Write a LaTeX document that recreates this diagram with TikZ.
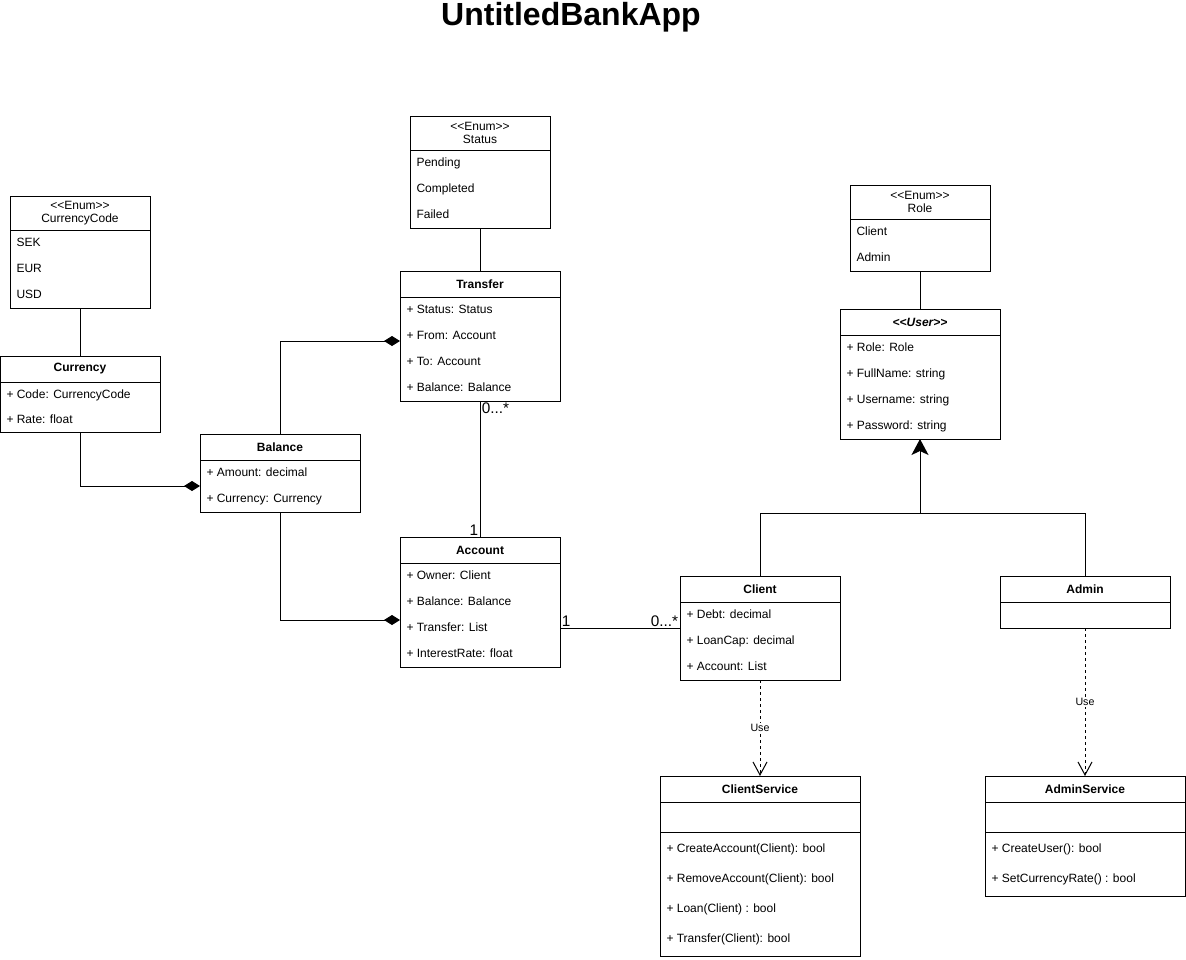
\documentclass[tikz,border=0pt]{standalone}
\usepackage{fontspec}
\setmainfont{Liberation Sans}
\usetikzlibrary{arrows.meta,calc}

% guillemet-free stereotype brackets
\newcommand{\stereo}[1]{<\kern0pt<#1>\kern0pt>}

\begin{document}
\begin{tikzpicture}[x=0.75pt,y=-0.75pt,
  line width=0.75pt,
  cls/.style n args={2}{draw, fill=white, minimum width=#1*0.75pt, minimum height=#2*0.75pt,
                        anchor=north west, inner sep=0pt, outer sep=0pt},
  hdr/.style={font=\fontsize{9}{11}\selectfont\bfseries, inner sep=0pt},
  enumhdr/.style={font=\fontsize{9}{9.6}\selectfont, align=center, inner sep=0pt},
  attr/.style={font=\fontsize{9}{11}\selectfont, anchor=base west, inner sep=0pt, yshift=-4.3*0.75pt},
  mult/.style={font=\fontsize{11.5}{13}\selectfont, inner sep=1pt},
  uselbl/.style={font=\fontsize{8}{9}\selectfont, fill=white, inner sep=1pt},
  comp/.style={-{Diamond[length=16*0.75pt,width=10*0.75pt]}},
  gen/.style={-{Stealth[length=16*0.75pt,width=17*0.75pt,inset=4*0.75pt]}},
  dep/.style={dash pattern=on 3*0.75pt off 3*0.75pt,
              -{Straight Barb[length=13*0.75pt,width=14*0.75pt,line width=0.75pt]}},
]
\useasboundingbox (0,0) rectangle (1186,960);

% title
\node[font=\fontsize{24}{28}\selectfont\bfseries] (title) at (571,17) {UntitledBankApp};

% ---------- enum CurrencyCode ----------
\node[cls={140}{112}] (cc) at (10,196) {};
\draw ($(cc.north west)+(0,34)$) -- ++(140,0);
\node[enumhdr] (ccT) at (80,213) {\stereo{Enum}\\CurrencyCode};
\node[attr] (cc1) at (16,242) {SEK};
\node[attr] (cc2) at (16,268) {EUR};
\node[attr] (cc3) at (16,294) {USD};

% ---------- enum Status ----------
\node[cls={140}{112}] (status) at (410,116) {};
\draw ($(status.north west)+(0,34)$) -- ++(140,0);
\node[enumhdr] (statusT) at (480,133) {\stereo{Enum}\\Status};
\node[attr] (st1) at (416,162) {Pending};
\node[attr] (st2) at (416,188) {Completed};
\node[attr] (st3) at (416,214) {Failed};

% ---------- enum Role ----------
\node[cls={140}{86}] (role) at (850,185) {};
\draw ($(role.north west)+(0,34)$) -- ++(140,0);
\node[enumhdr] (roleT) at (920,202) {\stereo{Enum}\\Role};
\node[attr] (ro1) at (856,231) {Client};
\node[attr] (ro2) at (856,257) {Admin};

% ---------- Currency ----------
\node[cls={160}{76}] (currency) at (0,356) {};
\draw ($(currency.north west)+(0,26)$) -- ++(160,0);
\node[hdr] (currencyT) at (80,369) {Currency};
\node[attr] (cu1) at (6,394) {+ Code: CurrencyCode};
\node[attr] (cu2) at (6,419) {+ Rate: float};

% ---------- Balance ----------
\node[cls={160}{78}] (balance) at (200,434) {};
\draw ($(balance.north west)+(0,26)$) -- ++(160,0);
\node[hdr] (balanceT) at (280,447) {Balance};
\node[attr] (ba1) at (206,472) {+ Amount: decimal};
\node[attr] (ba2) at (206,498) {+ Currency: Currency};

% ---------- Transfer ----------
\node[cls={160}{130}] (transfer) at (400,271) {};
\draw ($(transfer.north west)+(0,26)$) -- ++(160,0);
\node[hdr] (transferT) at (480,284) {Transfer};
\node[attr] (tr1) at (406,309) {+ Status: Status};
\node[attr] (tr2) at (406,335) {+ From: Account};
\node[attr] (tr3) at (406,361) {+ To: Account};
\node[attr] (tr4) at (406,387) {+ Balance: Balance};

% ---------- Account ----------
\node[cls={160}{130}] (account) at (400,537) {};
\draw ($(account.north west)+(0,26)$) -- ++(160,0);
\node[hdr] (accountT) at (480,550) {Account};
\node[attr] (ac1) at (406,575) {+ Owner: Client};
\node[attr] (ac2) at (406,601) {+ Balance: Balance};
\node[attr] (ac3) at (406,627) {+ Transfer: List};
\node[attr] (ac4) at (406,653) {+ InterestRate: float};

% ---------- User (abstract) ----------
\node[cls={160}{130}] (user) at (840,309) {};
\draw ($(user.north west)+(0,26)$) -- ++(160,0);
\node[hdr, font=\fontsize{9}{11}\selectfont\bfseries\itshape] (userT) at (920,322) {\stereo{User}};
\node[attr] (us1) at (846,347) {+ Role: Role};
\node[attr] (us2) at (846,373) {+ FullName: string};
\node[attr] (us3) at (846,399) {+ Username: string};
\node[attr] (us4) at (846,425) {+ Password: string};

% ---------- Client ----------
\node[cls={160}{104}] (client) at (680,576) {};
\draw ($(client.north west)+(0,26)$) -- ++(160,0);
\node[hdr] (clientT) at (760,589) {Client};
\node[attr] (cl1) at (686,614) {+ Debt: decimal};
\node[attr] (cl2) at (686,640) {+ LoanCap: decimal};
\node[attr] (cl3) at (686,666) {+ Account: List};

% ---------- Admin ----------
\node[cls={170}{52}] (admin) at (1000,576) {};
\draw ($(admin.north west)+(0,26)$) -- ++(170,0);
\node[hdr] (adminT) at (1085,589) {Admin};

% ---------- ClientService ----------
\node[cls={200}{180}] (clientsvc) at (660,776) {};
\draw ($(clientsvc.north west)+(0,26)$) -- ++(200,0);
\draw ($(clientsvc.north west)+(0,56)$) -- ++(200,0);
\node[hdr] (clientsvcT) at (760,789) {ClientService};
\node[attr] (cs1) at (666,848) {+ CreateAccount(Client): bool};
\node[attr] (cs2) at (666,878) {+ RemoveAccount(Client): bool};
\node[attr] (cs3) at (666,908) {+ Loan(Client) : bool};
\node[attr] (cs4) at (666,938) {+ Transfer(Client): bool};

% ---------- AdminService ----------
\node[cls={200}{120}] (adminsvc) at (985,776) {};
\draw ($(adminsvc.north west)+(0,26)$) -- ++(200,0);
\draw ($(adminsvc.north west)+(0,56)$) -- ++(200,0);
\node[hdr] (adminsvcT) at (1085,789) {AdminService};
\node[attr] (as1) at (991,848) {+ CreateUser(): bool};
\node[attr] (as2) at (991,878) {+ SetCurrencyRate() : bool};

% ---------- enum links ----------
\draw (status.south) -- (transfer.north);
\draw (cc.south) -- (currency.north);
\draw (role.south) -- (user.north);

% ---------- compositions ----------
\draw[comp] (currency.south) |- ($(balance.west)+(0,13)$);
\draw[comp] (balance.north) |- ($(transfer.west)+(0,5)$);
\draw[comp] (balance.south) |- ($(account.west)+(0,18)$);

% ---------- associations ----------
\draw (transfer.south) -- (account.north)
  node[mult, pos=0, anchor=north west] {0...*}
  node[mult, pos=1, anchor=south east] {1};
\draw (client.west -| account.east) -- (client.west)
  node[mult, pos=0, anchor=south west] {1}
  node[mult, pos=1, anchor=south east] {0...*};

% ---------- generalization ----------
\coordinate (join) at ($(user.south)+(0,74)$);
\draw (client.north) |- (join);
\draw (admin.north) |- (join);
\draw[gen] (join) -- (user.south);

% ---------- dependencies ----------
\draw[dep] (client.south) -- (clientsvc.north) node[uselbl, pos=0.5] {Use};
\draw[dep] (admin.south) -- (adminsvc.north) node[uselbl, pos=0.5] {Use};
\end{tikzpicture}
\end{document}
